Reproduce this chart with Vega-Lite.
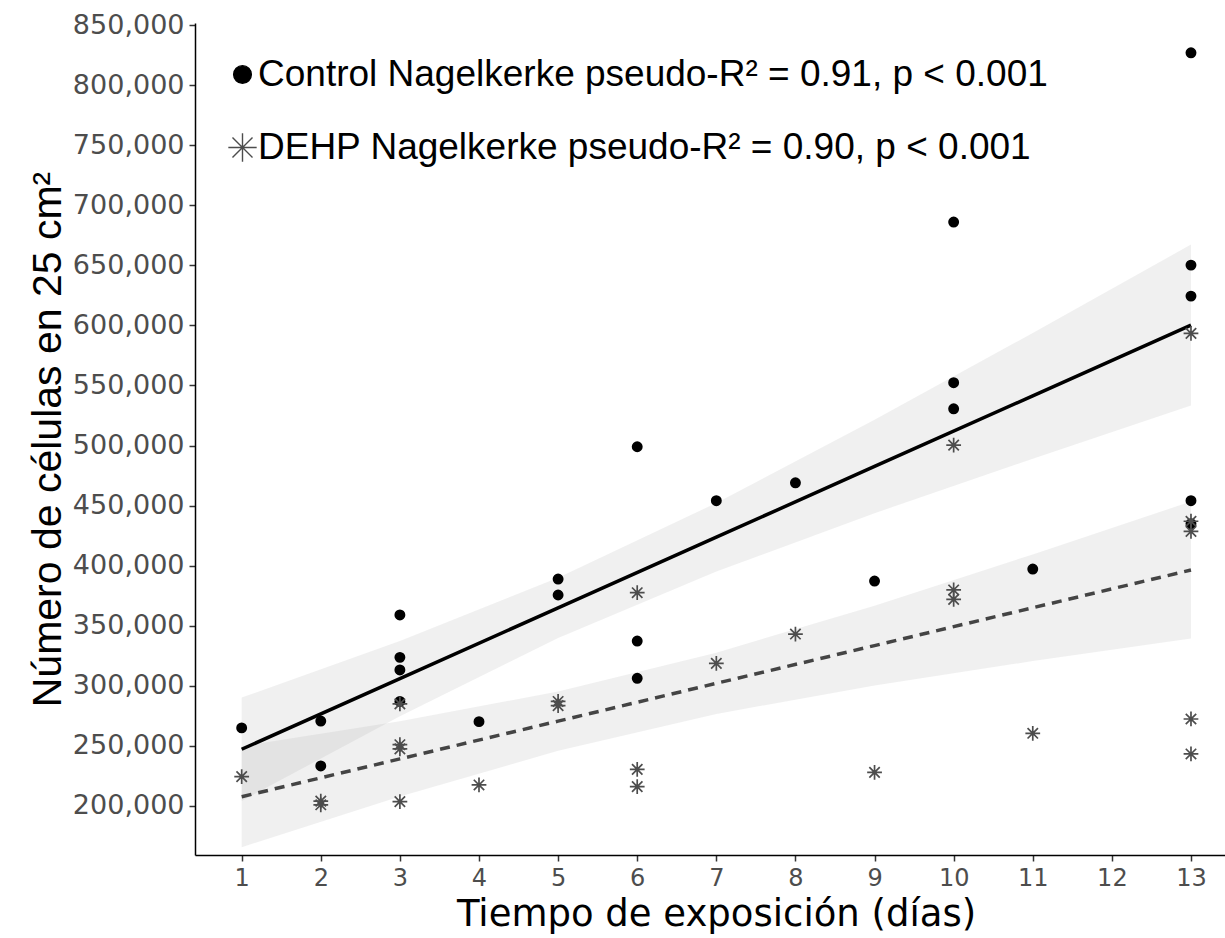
{
  "$schema": "https://vega.github.io/schema/vega-lite/v6.json",
  "width": 1030,
  "height": 832,
  "autosize": {"type": "none"},
  "padding": {"left": 195, "top": 23, "right": 0, "bottom": 83},
  "background": "white",
  "config": {
    "view": {"stroke": null},
    "axis": {"grid": false, "domainColor": "black", "domainWidth": 1.5, "tickColor": "#333333", "tickWidth": 1.5, "tickSize": 6, "labelColor": "#4d4d4d", "labelFont": "DejaVu Sans", "labelFontSize": 27, "titleFontWeight": "normal", "titleColor": "black"}
  },
  "datasets": {
    "puntos": [
      {"grupo": "Control", "dia": 1, "celulas": 265000},
      {"grupo": "Control", "dia": 2, "celulas": 270700},
      {"grupo": "Control", "dia": 2, "celulas": 233300},
      {"grupo": "Control", "dia": 3, "celulas": 359000},
      {"grupo": "Control", "dia": 3, "celulas": 323700},
      {"grupo": "Control", "dia": 3, "celulas": 313200},
      {"grupo": "Control", "dia": 3, "celulas": 287000},
      {"grupo": "Control", "dia": 4, "celulas": 270200},
      {"grupo": "Control", "dia": 5, "celulas": 388900},
      {"grupo": "Control", "dia": 5, "celulas": 375600},
      {"grupo": "Control", "dia": 6, "celulas": 499000},
      {"grupo": "Control", "dia": 6, "celulas": 337300},
      {"grupo": "Control", "dia": 6, "celulas": 306300},
      {"grupo": "Control", "dia": 7, "celulas": 454100},
      {"grupo": "Control", "dia": 8, "celulas": 469000},
      {"grupo": "Control", "dia": 9, "celulas": 387200},
      {"grupo": "Control", "dia": 10, "celulas": 686000},
      {"grupo": "Control", "dia": 10, "celulas": 552300},
      {"grupo": "Control", "dia": 10, "celulas": 530600},
      {"grupo": "Control", "dia": 11, "celulas": 397200},
      {"grupo": "Control", "dia": 13, "celulas": 826900},
      {"grupo": "Control", "dia": 13, "celulas": 650200},
      {"grupo": "Control", "dia": 13, "celulas": 624400},
      {"grupo": "Control", "dia": 13, "celulas": 454100},
      {"grupo": "Control", "dia": 13, "celulas": 435000},
      {"grupo": "DEHP", "dia": 1, "celulas": 224400},
      {"grupo": "DEHP", "dia": 2, "celulas": 204000},
      {"grupo": "DEHP", "dia": 2, "celulas": 201000},
      {"grupo": "DEHP", "dia": 3, "celulas": 285000},
      {"grupo": "DEHP", "dia": 3, "celulas": 251000},
      {"grupo": "DEHP", "dia": 3, "celulas": 247500},
      {"grupo": "DEHP", "dia": 3, "celulas": 203600},
      {"grupo": "DEHP", "dia": 4, "celulas": 217500},
      {"grupo": "DEHP", "dia": 5, "celulas": 287000},
      {"grupo": "DEHP", "dia": 5, "celulas": 283500},
      {"grupo": "DEHP", "dia": 6, "celulas": 377500},
      {"grupo": "DEHP", "dia": 6, "celulas": 230500},
      {"grupo": "DEHP", "dia": 6, "celulas": 216100},
      {"grupo": "DEHP", "dia": 7, "celulas": 318700},
      {"grupo": "DEHP", "dia": 8, "celulas": 343100},
      {"grupo": "DEHP", "dia": 9, "celulas": 228000},
      {"grupo": "DEHP", "dia": 10, "celulas": 500400},
      {"grupo": "DEHP", "dia": 10, "celulas": 379800},
      {"grupo": "DEHP", "dia": 10, "celulas": 372000},
      {"grupo": "DEHP", "dia": 11, "celulas": 260500},
      {"grupo": "DEHP", "dia": 13, "celulas": 593400},
      {"grupo": "DEHP", "dia": 13, "celulas": 437000},
      {"grupo": "DEHP", "dia": 13, "celulas": 428500},
      {"grupo": "DEHP", "dia": 13, "celulas": 272400},
      {"grupo": "DEHP", "dia": 13, "celulas": 243300}
    ],
    "ajuste": [
      {"serie": "Control", "dia": 1, "fit": 247200, "lo": 204200, "hi": 290200},
      {"serie": "Control", "dia": 3, "fit": 306000, "lo": 274700, "hi": 337300},
      {"serie": "Control", "dia": 5, "fit": 364900, "lo": 339800, "hi": 390000},
      {"serie": "Control", "dia": 7, "fit": 423700, "lo": 395200, "hi": 452200},
      {"serie": "Control", "dia": 9, "fit": 482600, "lo": 443700, "hi": 521500},
      {"serie": "Control", "dia": 11, "fit": 541400, "lo": 489100, "hi": 593700},
      {"serie": "Control", "dia": 13, "fit": 600300, "lo": 533300, "hi": 667300},
      {"serie": "DEHP", "dia": 1, "fit": 207700, "lo": 165700, "hi": 249700},
      {"serie": "DEHP", "dia": 3, "fit": 239200, "lo": 207900, "hi": 270500},
      {"serie": "DEHP", "dia": 5, "fit": 270600, "lo": 245900, "hi": 295300},
      {"serie": "DEHP", "dia": 7, "fit": 302100, "lo": 276600, "hi": 327600},
      {"serie": "DEHP", "dia": 9, "fit": 333500, "lo": 300300, "hi": 366700},
      {"serie": "DEHP", "dia": 11, "fit": 365000, "lo": 320600, "hi": 409400},
      {"serie": "DEHP", "dia": 13, "fit": 396400, "lo": 339400, "hi": 453400}
    ]
  },
  "encoding": {
    "x": {"field": "dia", "type": "quantitative", "scale": {"domain": [0.41, 13.43], "nice": false, "zero": false},
      "axis": {"values": [1,2,3,4,5,6,7,8,9,10,11,12,13], "title": "Tiempo de exposición (días)", "labelFontSize": 24, "labelPadding": 5, "titleFont": "DejaVu Sans", "titleFontSize": 37, "titlePadding": 6, "titleX": 521}},
    "y": {"type": "quantitative", "scale": {"domain": [159200, 851700], "nice": false, "zero": false},
      "axis": {"values": [200000,250000,300000,350000,400000,450000,500000,550000,600000,650000,700000,750000,800000,850000], "format": ",.0f", "title": "Número de células en 25 cm²", "titleFont": "Liberation Sans", "titleFontSize": 41, "labelPadding": 5, "titlePadding": 3}}
  },
  "layer": [
    {
      "data": {"name": "ajuste"},
      "mark": {"type": "area", "fill": "#999999", "fillOpacity": 0.15},
      "encoding": {"y": {"field": "lo", "type": "quantitative"}, "y2": {"field": "hi"}, "detail": {"field": "serie"}}
    },
    {
      "data": {"name": "ajuste"},
      "transform": [{"filter": "datum.serie == 'Control'"}],
      "mark": {"type": "line", "color": "black", "strokeWidth": 3.5},
      "encoding": {"y": {"field": "fit", "type": "quantitative"}}
    },
    {
      "data": {"name": "ajuste"},
      "transform": [{"filter": "datum.serie == 'DEHP'"}],
      "mark": {"type": "line", "color": "#444444", "strokeWidth": 3.5, "strokeDash": [10, 7]},
      "encoding": {"y": {"field": "fit", "type": "quantitative"}}
    },
    {
      "data": {"name": "puntos"},
      "mark": {"type": "point", "filled": true, "size": 85, "strokeWidth": 1.7, "opacity": 1},
      "encoding": {
        "y": {"field": "celulas", "type": "quantitative"},
        "shape": {"field": "grupo", "type": "nominal", "scale": {"domain": ["Control", "DEHP"], "range": ["circle", "M-1.6,0L1.6,0M0,-1.6L0,1.6M-1.13,-1.13L1.13,1.13M-1.13,1.13L1.13,-1.13"]},
          "legend": {"title": null, "orient": "none", "legendX": 29, "legendY": 33, "labelFont": "Liberation Sans", "labelFontSize": 37, "labelColor": "black", "labelLimit": 1200, "symbolSize": 314, "symbolStrokeWidth": 1.4, "labelOffset": -3, "rowPadding": 35,
            "labelExpr": "datum.value == 'Control' ? 'Control Nagelkerke pseudo-R² = 0.91, p < 0.001' : 'DEHP Nagelkerke pseudo-R² = 0.90, p < 0.001'"}},
        "fill": {"field": "grupo", "type": "nominal", "scale": {"domain": ["Control", "DEHP"], "range": ["black", "#4d4d4d"]}},
        "stroke": {"field": "grupo", "type": "nominal", "scale": {"domain": ["Control", "DEHP"], "range": ["black", "#4d4d4d"]}}
      }
    }
  ]
}
